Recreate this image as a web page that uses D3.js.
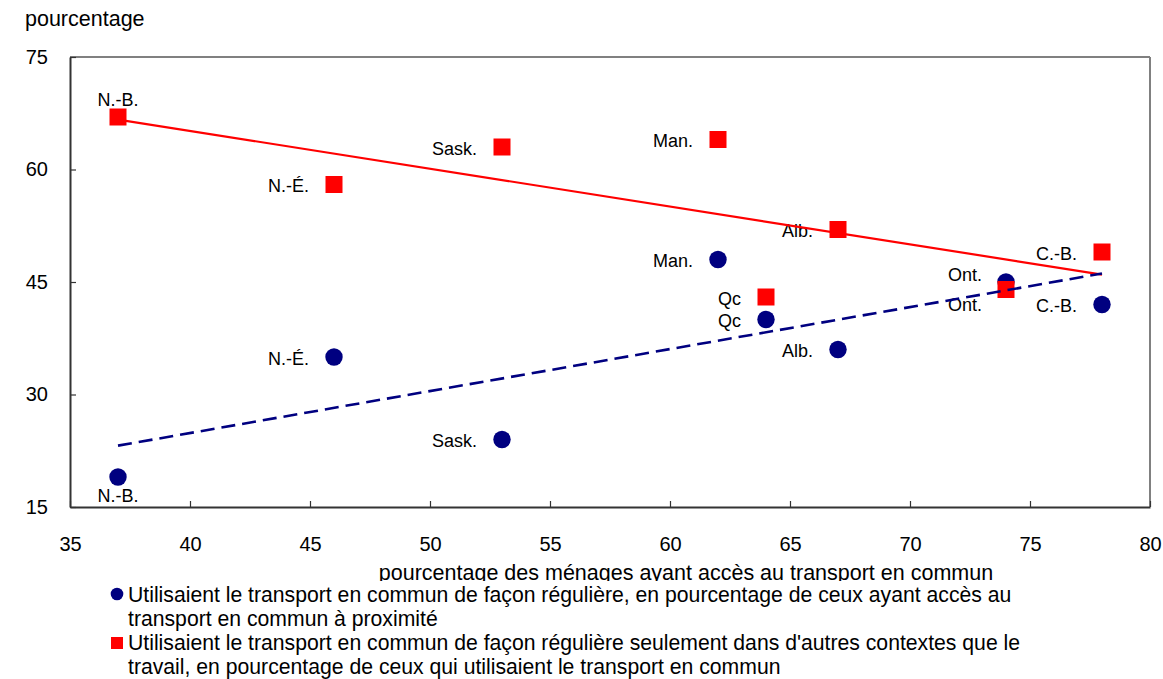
<!DOCTYPE html>
<html>
<head>
<meta charset="utf-8">
<script src="https://cdn.jsdelivr.net/npm/d3@7"></script>
<style>
  html, body { margin: 0; padding: 0; background: #fff; }
  svg { display: block; font-family: "Liberation Sans", Arial, sans-serif; }
</style>
</head>
<body>
<svg id="chart" width="1163" height="679"></svg>
<script>
// ---- Data ----
const provinces = ["N.-B.", "N.-É.", "Sask.", "Man.", "Qc", "Alb.", "Ont.", "C.-B."];
const accessPct = [37, 46, 53, 62, 64, 67, 74, 78];
const regularUsePct = [19, 35, 24, 48, 40, 36, 45, 42];
const nonWorkUsePct = [67, 58, 63, 64, 43, 52, 44, 49];
const xTicks = [35, 40, 45, 50, 55, 60, 65, 70, 75, 80];
const yTicks = [15, 30, 45, 60, 75];
const legendLines1 = ["Utilisaient le transport en commun de façon régulière, en pourcentage de ceux ayant accès au",
                      "transport en commun à proximité"];
const legendLines2 = ["Utilisaient le transport en commun de façon régulière seulement dans d'autres contextes que le",
                      "travail, en pourcentage de ceux qui utilisaient le transport en commun"];
const yTitle = "pourcentage";
const xTitle = "pourcentage  des ménages ayant accès au transport en commun";

// ---- Label placement (layout only) ----
const blueLabelPos = {"N.-B.": "below", "Ont.": "above"};
const redLabelPos = {"N.-B.": "above", "Ont.": "below"};

const svg = d3.select("#chart");
const L = 70, R = 1150, T = 57, B = 507;
const x = d3.scaleLinear().domain([35, 80]).range([L, R]);
const y = d3.scaleLinear().domain([15, 75]).range([B, T]);
const BLUE = "#000080", RED = "#FF0000";
const FONT = "Liberation Sans, Arial, sans-serif";

// frame top/right
svg.append("line").attr("x1", L).attr("x2", R).attr("y1", T).attr("y2", T)
  .attr("stroke", "#808080").attr("stroke-width", 2);
svg.append("line").attr("x1", R).attr("x2", R).attr("y1", T).attr("y2", B)
  .attr("stroke", "#808080").attr("stroke-width", 2);

// axes
const xAxis = d3.axisBottom(x).tickValues(xTicks).tickSizeInner(-6).tickSizeOuter(0).tickPadding(30);
const gx = svg.append("g").attr("transform", `translate(0,${B})`).call(xAxis);
gx.select(".domain").attr("stroke", "#333").attr("stroke-width", 2);
gx.selectAll(".tick line").attr("stroke", "#333").attr("stroke-width", 1.2);
gx.selectAll(".tick text").attr("font-size", 20).attr("fill", "#000").attr("font-family", FONT);

const yAxis = d3.axisLeft(y).tickValues(yTicks).tickSizeInner(-6).tickSizeOuter(0).tickPadding(22);
const gy = svg.append("g").attr("transform", `translate(${L},0)`).call(yAxis);
gy.select(".domain").attr("stroke", "#333").attr("stroke-width", 2);
gy.selectAll(".tick line").attr("stroke", "#333").attr("stroke-width", 1.2);
gy.selectAll(".tick text").attr("font-size", 20).attr("fill", "#000").attr("font-family", FONT);

// y title
svg.append("text").attr("x", 25).attr("y", 26).attr("font-size", 21.5).text(yTitle);

// x title
svg.append("text").attr("x", 686).attr("y", 580).attr("text-anchor", "middle")
  .attr("font-size", 21.5).text(xTitle);

// regression helper
function fit(xs, ys) {
  const mx = d3.mean(xs), my = d3.mean(ys);
  const sxy = d3.sum(xs, (v, i) => (v - mx) * (ys[i] - my));
  const sxx = d3.sum(xs, v => (v - mx) * (v - mx));
  const b = sxy / sxx, a = my - b * mx;
  const [x0, x1] = d3.extent(xs);
  return [[x0, a + b * x0], [x1, a + b * x1]];
}

const blueData = provinces.map((p, i) => ({p, x: accessPct[i], y: regularUsePct[i]}));
const redData = provinces.map((p, i) => ({p, x: accessPct[i], y: nonWorkUsePct[i]}));

// markers
svg.append("g").selectAll("circle").data(blueData).join("circle")
  .attr("cx", d => x(d.x)).attr("cy", d => y(d.y)).attr("r", 8.7).attr("fill", BLUE);
svg.append("g").selectAll("rect").data(redData).join("rect")
  .attr("x", d => x(d.x) - 8.5).attr("y", d => y(d.y) - 8.5)
  .attr("width", 17).attr("height", 17).attr("fill", RED);

// labels
function labelPlace(sel, posMap) {
  sel.each(function(d) {
    const pos = posMap[d.p];
    const t = d3.select(this);
    if (pos === "above" && d.p === "N.-B.") {
      t.attr("x", x(d.x)).attr("y", y(d.y) - 17).attr("text-anchor", "middle");
    } else if (pos === "below" && d.p === "N.-B.") {
      t.attr("x", x(d.x)).attr("y", y(d.y) + 19).attr("text-anchor", "middle");
    } else if (pos === "above") {
      t.attr("x", x(d.x) - 24).attr("y", y(d.y) - 7).attr("text-anchor", "end");
    } else if (pos === "below") {
      t.attr("x", x(d.x) - 24).attr("y", y(d.y) + 15).attr("text-anchor", "end");
    } else {
      t.attr("x", x(d.x) - 25).attr("y", y(d.y) + 1.5).attr("text-anchor", "end");
    }
  });
}
svg.append("g").selectAll("text").data(blueData).join("text")
  .attr("font-size", 18).attr("dominant-baseline", "central").text(d => d.p)
  .call(labelPlace, blueLabelPos);
svg.append("g").selectAll("text").data(redData).join("text")
  .attr("font-size", 18).attr("dominant-baseline", "central").text(d => d.p)
  .call(labelPlace, redLabelPos);

// trend lines
const line = d3.line().x(d => x(d[0])).y(d => y(d[1]));
svg.append("path").attr("d", line(fit(accessPct, nonWorkUsePct)))
  .attr("stroke", RED).attr("stroke-width", 2.2).attr("fill", "none");
svg.append("path").attr("d", line(fit(accessPct, regularUsePct)))
  .attr("stroke", BLUE).attr("stroke-width", 2.6).attr("fill", "none")
  .attr("stroke-dasharray", "14,7");

// legend
const lg = svg.append("g");
lg.append("rect").attr("x", 105).attr("y", 581).attr("width", 930).attr("height", 98).attr("fill", "#fff");
lg.append("circle").attr("cx", 117).attr("cy", 594).attr("r", 6.3).attr("fill", BLUE);
lg.append("rect").attr("x", 111).attr("y", 637).attr("width", 12).attr("height", 12).attr("fill", RED);
const legLines = legendLines1.concat(legendLines2);
lg.selectAll("text.leg").data(legLines).join("text").attr("class", "leg")
  .attr("x", 128).attr("y", (d, i) => 594 + i * 24.3).attr("dominant-baseline", "central")
  .attr("font-size", 21.2).text(d => d);
</script>
</body>
</html>
